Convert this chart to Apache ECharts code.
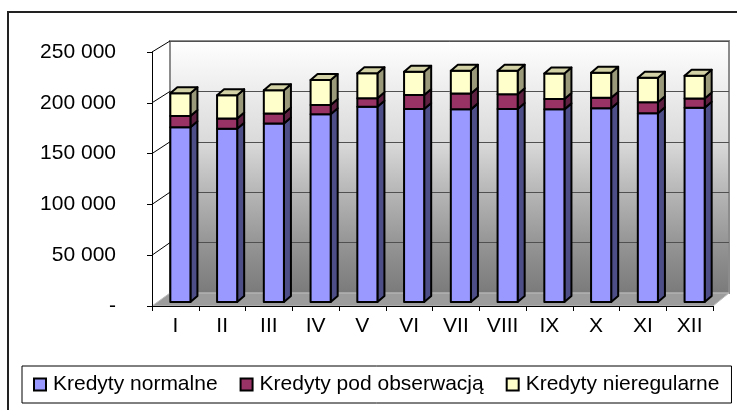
<!DOCTYPE html>
<html>
<head>
<meta charset="utf-8">
<script src="https://cdn.jsdelivr.net/npm/echarts@6/dist/echarts.min.js"></script>
<style>
  html, body { margin: 0; padding: 0; background: #fff; }
  #chart { width: 737px; height: 410px; }
</style>
</head>
<body>
<div id="chart"></div>
<script>
// dane
const months = ['I', 'II', 'III', 'IV', 'V', 'VI', 'VII', 'VIII', 'IX', 'X', 'XI', 'XII'];
const normalne = [172000, 170500, 175800, 184700, 192200, 189900, 189600, 189900, 189600, 190600, 185700, 191200];
const podObserwacja = [11100, 10200, 9800, 9200, 8300, 13800, 15700, 14500, 10100, 10400, 10800, 9200];
const nieregularne = [22300, 22900, 22900, 24600, 24600, 22900, 22200, 23200, 25300, 24600, 24200, 22200];
const seriesNames = ['Kredyty normalne', 'Kredyty pod obserwacją', 'Kredyty nieregularne'];
const yMax = 250000;
const yStep = 50000;

const stacks = [normalne, podObserwacja, nieregularne];
// kolory: przód, bok, góra
const faces = [
  { front: '#9999ff', side: '#4d4d88', top: '#7777cc' },
  { front: '#993366', side: '#5e2040', top: '#7a2952' },
  { front: '#ffffcc', side: '#9a9a7a', top: '#d2d2a6' }
];

const FONT = '"Liberation Sans", Arial, sans-serif';
const BACK = { left: 170, top: 41, width: 559, height: 252 };
const FRONT = { left: 152, top: 52, width: 561, height: 254 };
const BARS = { left: 157, top: 48, width: 561, height: 254 };
const DX = 7, DY = -6; // glebokosc slupka

function fmt(v) {
  if (v === 0) return '-';
  return String(v).replace(/\B(?=(\d{3})+(?!\d))/g, ' ');
}

function renderSegment(s) {
  return function (params, api) {
    const i = api.value(0);
    let base = 0;
    for (let k = 0; k < s; k++) base += stacks[k][i];
    const top = base + stacks[s][i];
    const p0 = api.coord([i, base]);
    const p1 = api.coord([i, top]);
    const w = api.size([1, 0])[0] * 0.43;
    const x0 = p0[0] - w / 2, x1 = p0[0] + w / 2;
    const yb = p0[1], yt = p1[1];
    const st = { stroke: '#000', lineWidth: 2, lineJoin: 'round' };
    const children = [
      { type: 'polygon', shape: { points: [[x1, yb], [x1 + DX, yb + DY], [x1 + DX, yt + DY], [x1, yt]] },
        style: Object.assign({ fill: faces[s].side }, st) },
      { type: 'rect', shape: { x: x0, y: yt, width: w, height: yb - yt },
        style: Object.assign({ fill: faces[s].front }, st) }
    ];
    if (s === stacks.length - 1) {
      children.push({ type: 'polygon', shape: { points: [[x0, yt], [x0 + DX, yt + DY], [x1 + DX, yt + DY], [x1, yt]] },
        style: Object.assign({ fill: faces[s].top }, st) });
    }
    return { type: 'group', children: children };
  };
}

const chart = echarts.init(document.getElementById('chart'));

const option = {
  animation: false,
  textStyle: { fontFamily: FONT },
  grid: [
    Object.assign({
      show: true,
      borderColor: '#8c8c8c',
      borderWidth: 2,
      backgroundColor: new echarts.graphic.LinearGradient(0, 0, 0, 1, [
        { offset: 0, color: '#ffffff' },
        { offset: 0.4, color: '#dadada' },
        { offset: 0.6, color: '#b6b6b6' },
        { offset: 0.8, color: '#959595' },
        { offset: 1, color: '#7a7a7a' }
      ]),
      z: 0
    }, BACK),
    Object.assign({}, FRONT),
    Object.assign({}, BARS)
  ],
  xAxis: [
    { gridIndex: 0, type: 'category', data: months, show: false },
    {
      gridIndex: 1, type: 'category', data: months, z: 4,
      axisLine: { lineStyle: { color: '#000', width: 1 } },
      axisTick: { show: true, length: 5, alignWithLabel: false, lineStyle: { color: '#000' } },
      axisLabel: { color: '#000', fontSize: 21, fontFamily: FONT, margin: 10, interval: 0 },
      splitLine: { show: false }
    },
    { gridIndex: 2, type: 'category', data: months, show: false }
  ],
  yAxis: [
    {
      gridIndex: 0, type: 'value', min: 0, max: yMax, interval: yStep,
      axisLine: { show: false }, axisTick: { show: false }, axisLabel: { show: false },
      splitLine: { show: true, lineStyle: { color: '#505050', width: 1 } }
    },
    {
      gridIndex: 1, type: 'value', min: 0, max: yMax, interval: yStep, z: 4,
      axisLine: { show: true, lineStyle: { color: '#000', width: 1 } },
      axisTick: { show: true, length: 5, lineStyle: { color: '#000' } },
      axisLabel: { color: '#000', fontSize: 21, fontFamily: FONT, margin: 36, formatter: fmt },
      splitLine: { show: false }
    },
    { gridIndex: 2, type: 'value', min: 0, max: yMax, show: false }
  ],
  legend: {
    left: 22,
    top: 366,
    orient: 'horizontal',
    itemWidth: 12,
    itemHeight: 12,
    itemGap: 22,
    padding: [8, 12, 8, 11],
    borderColor: '#000',
    borderWidth: 1,
    backgroundColor: '#fff',
    icon: 'rect',
    itemStyle: { borderColor: '#000', borderWidth: 2 },
    textStyle: { color: '#000', fontSize: 21, fontFamily: FONT, padding: [0, 0, 0, 2] },
    data: seriesNames.map(function (n, s) {
      return { name: n, itemStyle: { color: faces[s].front, borderColor: '#000', borderWidth: 2 } };
    })
  },
  series: stacks.map(function (arr, s) {
    return {
      name: seriesNames[s],
      type: 'custom',
      xAxisIndex: 2,
      yAxisIndex: 2,
      z: 5 + s,
      itemStyle: { color: faces[s].front, borderColor: '#000', borderWidth: 2 },
      renderItem: renderSegment(s),
      data: arr.map(function (v, i) { return [i, v]; })
    };
  })
};

chart.setOption(option);

// podloga, ukosne linie siatki i ramka
const yFront = function (v) { return chart.convertToPixel({ yAxisIndex: 1 }, v); };
const yBack = function (v) { return chart.convertToPixel({ yAxisIndex: 0 }, v); };
const fl = FRONT.left, fr = FRONT.left + FRONT.width;
const bl = BACK.left, br = BACK.left + BACK.width;
const graphics = [
  {
    type: 'rect', z: 0, silent: true,
    shape: { x: 8, y: 12, width: 745, height: 410 },
    style: { fill: 'none', stroke: '#222', lineWidth: 2 }
  },
  {
    type: 'polygon', z: 1, silent: true,
    shape: { points: [[fl, yFront(0)], [fr, yFront(0)], [br, yBack(0)], [bl, yBack(0)]] },
    style: { fill: '#9c9c9c', stroke: '#bdbdbd', lineWidth: 1 }
  }
];
for (let v = yStep; v <= yMax; v += yStep) {
  graphics.push({
    type: 'line', z: 1, silent: true,
    shape: { x1: fl, y1: yFront(v), x2: bl, y2: yBack(v) },
    style: { stroke: '#000', lineWidth: 1 }
  });
}
chart.setOption({ graphic: graphics });
</script>
</body>
</html>
